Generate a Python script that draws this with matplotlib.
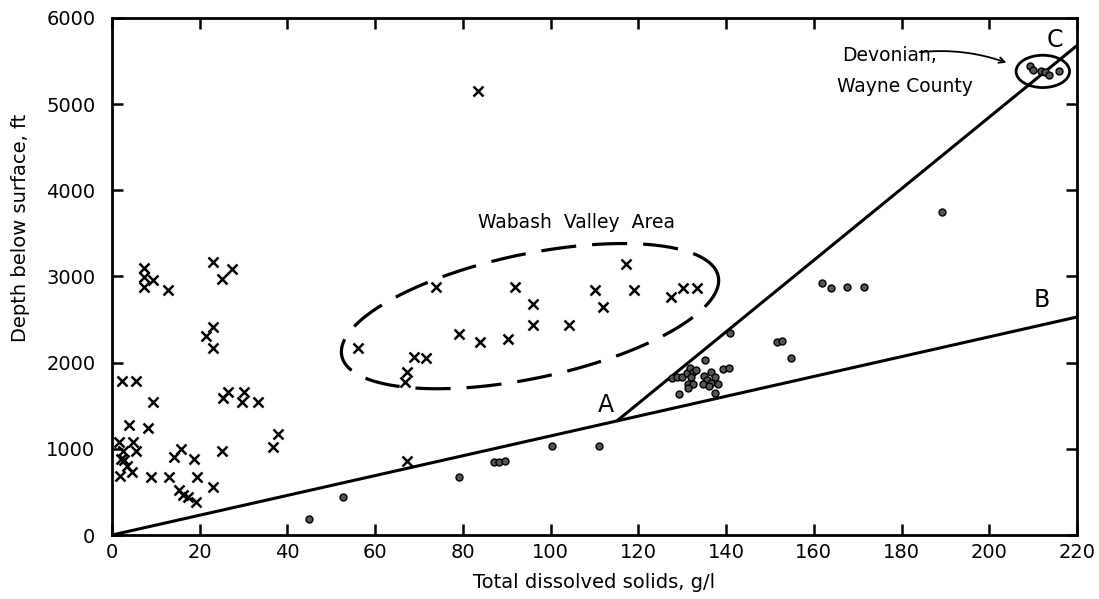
import numpy as np
import matplotlib.pyplot as plt
from matplotlib.patches import Ellipse

plt.rcParams['font.family'] = ['DejaVu Sans']

# Pozos marcados con x (fuera de la tendencia)
cruz_x = [7.2, 7.3, 9.4, 7.4, 12.7, 23.1, 27.3, 25.1, 23.1, 21.5, 23.0,
          2.2, 5.4, 9.3, 3.9, 8.1, 1.7, 4.9, 2.4, 5.4, 2.1, 2.7, 3.4, 4.5,
          1.8, 8.9, 12.9, 19.3, 15.8, 14.2, 18.8, 25.1, 23.0, 15.3, 16.1,
          17.3, 19.1, 25.3, 26.4, 30.0, 29.6, 33.2, 37.8, 36.7,
          67.3, 83.5,
          56.1, 73.8, 68.9, 71.5, 67.3, 66.9, 79.0, 83.9, 90.3, 91.9, 96.0,
          96.0, 104.1, 110.0, 112.0, 117.1, 118.9, 127.5, 130.1, 133.4]
cruz_y = [3094, 2996, 2958, 2880, 2842, 3170, 3082, 2966, 2409, 2308, 2166,
          1790, 1790, 1547, 1276, 1237, 1082, 1082, 978, 974, 878, 870, 800, 727,
          684, 669, 669, 669, 994, 901, 878, 974, 560, 522, 464,
          437, 386, 1585, 1655, 1655, 1547, 1547, 1172, 1025,
          858, 5150,
          2166, 2873, 2068, 2049, 1894, 1778, 2332, 2235, 2270, 2873, 2680,
          2436, 2436, 2842, 2648, 3140, 2842, 2757, 2862, 2862]

# Pozos marcados con punto
punto_x = [44.8, 52.6, 79.1, 87.2, 88.2, 89.6, 100.3, 111.1,
           127.6, 128.9, 130.0, 131.1, 131.7, 132.4, 131.9, 131.4, 132.4,
           131.4, 133.2, 134.9, 135.7, 134.7, 136.6, 137.4, 136.6, 138.1,
           136.0, 135.1, 129.2, 137.4, 139.3, 140.6, 141.0,
           151.5, 152.8, 154.7, 161.8, 164.0, 167.6, 171.5, 189.2]
punto_y = [186, 444, 676, 845, 850, 860, 1032, 1032,
           1818, 1829, 1836, 1875, 1934, 1894, 1829, 1752, 1752,
           1702, 1914, 1844, 1798, 1752, 1894, 1836, 1760, 1752,
           1728, 2030, 1636, 1644, 1922, 1941, 2340,
           2235, 2247, 2057, 2920, 2862, 2873, 2880, 3747]

# Devonico, condado de Wayne
dev_x = [209.2, 209.9, 211.9, 212.6, 213.7, 216.0]
dev_y = [5444, 5394, 5386, 5375, 5336, 5382]

# Rectas A-B y A-C
recta_ab_x = [0, 220]
recta_ab_y = [0, 2530]
recta_ac_x = [115, 220]
recta_ac_y = [1320, 5680]

fig = plt.figure(figsize=(10.99, 5.99), dpi=100)
ax = fig.add_axes([0.1019, 0.1068, 0.8781, 0.8632])

ax.plot(recta_ab_x, recta_ab_y, color='black', lw=2.2, solid_capstyle='butt')
ax.plot(recta_ac_x, recta_ac_y, color='black', lw=2.2, solid_capstyle='butt')

ax.plot(cruz_x, cruz_y, linestyle='none', marker='x', ms=7.5, mew=1.8, color='black')
ax.plot(punto_x, punto_y, linestyle='none', marker='o', ms=5, mfc='#555555',
        mec='black', mew=1.0)
ax.plot(dev_x, dev_y, linestyle='none', marker='o', ms=5, mfc='#555555',
        mec='black', mew=1.0)

# Elipse discontinua (area del valle Wabash), calculada en pixeles
px_x = 963 / 220.0
px_y = 517 / 6000.0
t = np.linspace(0, 2 * np.pi, 400)
a, b, ang = 192.0, 62.0, np.deg2rad(12)
u = a * np.cos(t) * np.cos(ang) - b * np.sin(t) * np.sin(ang)
v = a * np.cos(t) * np.sin(ang) + b * np.sin(t) * np.cos(ang)
ax.plot(95.3 + u / px_x, 2540 + v / px_y, color='black', lw=2.3,
        dashes=(11, 5), dash_capstyle='butt')

ax.add_patch(Ellipse((212.2, 5380), 12.2, 375, fill=False, lw=2, color='black'))

ax.text(105.8, 3630, 'Wabash  Valley  Area', fontsize=13.5, ha='center', va='center')
ax.text(112.6, 1510, 'A', fontsize=17, ha='center', va='center')
ax.text(212.0, 2730, 'B', fontsize=17, ha='center', va='center')
ax.text(215.0, 5740, 'C', fontsize=17, ha='center', va='center')
ax.text(177.3, 5570, 'Devonian,', fontsize=13.5, ha='center', va='center')
ax.text(180.7, 5210, 'Wayne County', fontsize=13.5, ha='center', va='center')
ax.annotate('', xy=(204.5, 5470), xytext=(183.5, 5600),
            arrowprops=dict(arrowstyle='->', color='black', lw=1.3,
                            connectionstyle='arc3,rad=-0.12'))

ax.set_xlim(0, 220)
ax.set_ylim(0, 6000)
ax.set_xticks(np.arange(0, 221, 20))
ax.set_yticks(np.arange(0, 6001, 1000))
ax.tick_params(direction='in', length=8, width=1.8, labelsize=14,
               top=True, right=True, pad=6)
ax.tick_params(axis='y', pad=12)
for s in ax.spines.values():
    s.set_linewidth(2)

ax.set_xlabel('Total dissolved solids, g/l', fontsize=14, labelpad=8)
ax.set_ylabel('Depth below surface, ft', fontsize=14)
ax.yaxis.set_label_coords(-0.085, 0.594)

fig.savefig('out.png', dpi=100)
